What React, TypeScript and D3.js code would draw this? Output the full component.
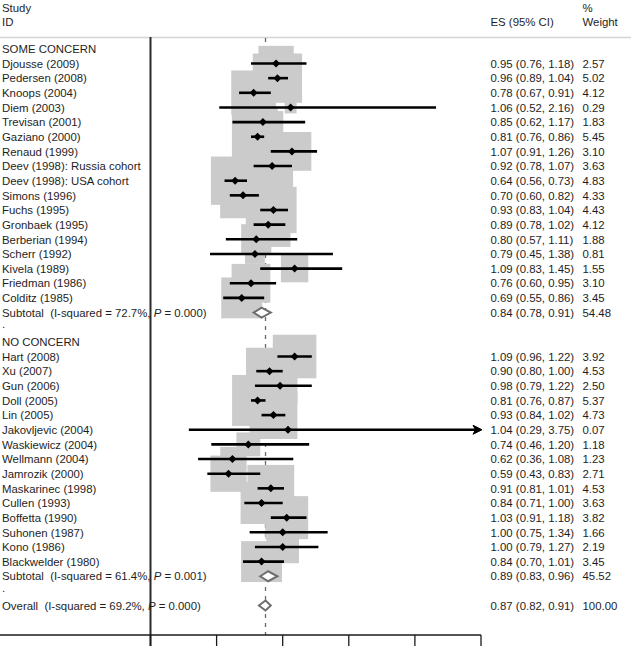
import React from "react";
import * as d3 from "d3";

// ---- data ----
const group1Name = "SOME CONCERN";
const group1Studies = [
  "Djousse (2009)", "Pedersen (2008)", "Knoops (2004)", "Diem (2003)", "Trevisan (2001)",
  "Gaziano (2000)", "Renaud (1999)", "Deev (1998): Russia cohort", "Deev (1998): USA cohort",
  "Simons (1996)", "Fuchs (1995)", "Gronbaek (1995)", "Berberian (1994)", "Scherr (1992)",
  "Kivela (1989)", "Friedman (1986)", "Colditz (1985)",
];
const group1ES = [0.95, 0.96, 0.78, 1.06, 0.85, 0.81, 1.07, 0.92, 0.64, 0.70, 0.93, 0.89, 0.80, 0.79, 1.09, 0.76, 0.69];
const group1Lo = [0.76, 0.89, 0.67, 0.52, 0.62, 0.76, 0.91, 0.78, 0.56, 0.60, 0.83, 0.78, 0.57, 0.45, 0.83, 0.60, 0.55];
const group1Hi = [1.18, 1.04, 0.91, 2.16, 1.17, 0.86, 1.26, 1.07, 0.73, 0.82, 1.04, 1.02, 1.11, 1.38, 1.45, 0.95, 0.86];
const group1W = [2.57, 5.02, 4.12, 0.29, 1.83, 5.45, 3.10, 3.63, 4.83, 4.33, 4.43, 4.12, 1.88, 0.81, 1.55, 3.10, 3.45];
const group1Sub = { es: 0.84, lo: 0.78, hi: 0.91, w: 54.48, i2: "72.7%", p: "0.000" };

const group2Name = "NO CONCERN";
const group2Studies = [
  "Hart (2008)", "Xu (2007)", "Gun (2006)", "Doll (2005)", "Lin (2005)", "Jakovljevic (2004)",
  "Waskiewicz (2004)", "Wellmann (2004)", "Jamrozik (2000)", "Maskarinec (1998)", "Cullen (1993)",
  "Boffetta (1990)", "Suhonen (1987)", "Kono (1986)", "Blackwelder (1980)",
];
const group2ES = [1.09, 0.90, 0.98, 0.81, 0.93, 1.04, 0.74, 0.62, 0.59, 0.91, 0.84, 1.03, 1.00, 1.00, 0.84];
const group2Lo = [0.96, 0.80, 0.79, 0.76, 0.84, 0.29, 0.46, 0.36, 0.43, 0.81, 0.71, 0.91, 0.75, 0.79, 0.70];
const group2Hi = [1.22, 1.00, 1.22, 0.87, 1.02, 3.75, 1.20, 1.08, 0.83, 1.01, 1.00, 1.18, 1.34, 1.27, 1.01];
const group2W = [3.92, 4.53, 2.50, 5.37, 4.73, 0.07, 1.18, 1.23, 2.71, 4.53, 3.63, 3.82, 1.66, 2.19, 3.45];
const group2Sub = { es: 0.89, lo: 0.83, hi: 0.96, w: 45.52, i2: "61.4%", p: "0.001" };

const overall = { es: 0.87, lo: 0.82, hi: 0.91, w: 100.0, i2: "69.2%", p: "0.000" };
const xTicks = [0, 0.5, 1, 1.5, 2, 2.5];

type Row =
  | { kind: "header"; label: string; idx: number }
  | { kind: "dot"; idx: number }
  | { kind: "study"; label: string; es: number; lo: number; hi: number; w: number; idx: number }
  | { kind: "sub"; label: string; es: number; lo: number; hi: number; w: number; i2: string; p: string; idx: number };

function buildRows(): Row[] {
  const rows: Row[] = [];
  let i = -1;
  rows.push({ kind: "header", label: group1Name, idx: i++ });
  group1Studies.forEach((s, k) =>
    rows.push({ kind: "study", label: s, es: group1ES[k], lo: group1Lo[k], hi: group1Hi[k], w: group1W[k], idx: i++ })
  );
  rows.push({ kind: "sub", label: "Subtotal", ...group1Sub, idx: i++ });
  rows.push({ kind: "dot", idx: i++ });
  rows.push({ kind: "header", label: group2Name, idx: i++ });
  group2Studies.forEach((s, k) =>
    rows.push({ kind: "study", label: s, es: group2ES[k], lo: group2Lo[k], hi: group2Hi[k], w: group2W[k], idx: i++ })
  );
  rows.push({ kind: "sub", label: "Subtotal", ...group2Sub, idx: i++ });
  rows.push({ kind: "dot", idx: i++ });
  rows.push({ kind: "sub", label: "Overall", ...overall, idx: i++ });
  return rows;
}

export default function App() {
  const W = 631;
  const H = 646;
  const rows = buildRows();
  const x = d3.scaleLinear().domain([0, 2.5]).range([150.5, 481]);
  const y = d3.scaleLinear().domain([0, 1]).range([63.5, 78.15]);
  const box = d3.scaleSqrt().domain([0, 5.37]).range([0, 51]);
  const f2 = d3.format(".2f");
  const font = "'Liberation Sans', Arial, Helvetica, sans-serif";
  const fs = 11.4;
  const txt = "#1e1e1e";
  const axisY = 635;
  const esX = 490.5;
  const wX = 582.5;

  const studies = rows.filter((r) => r.kind === "study") as Extract<Row, { kind: "study" }>[];
  const subs = rows.filter((r) => r.kind === "sub") as Extract<Row, { kind: "sub" }>[];

  return (
    <svg
      width={W}
      height={H}
      style={{ position: "absolute", left: 0, top: 0, background: "#fff" }}
      fontFamily={font}
      fontSize={fs}
    >
      <rect x={0} y={0} width={W} height={H} fill="#fff" />
      {/* header */}
      <text x={2} y={11.5} fill={txt}>Study</text>
      <text x={2} y={25.5} fill={txt}>ID</text>
      <text x={esX} y={25.5} fill={txt}>ES (95% CI)</text>
      <text x={wX} y={11.5} fill={txt}>%</text>
      <text x={wX} y={25.5} fill={txt}>Weight</text>
      <line x1={0} x2={W} y1={37.5} y2={37.5} stroke="#d4d4d4" strokeWidth={1.5} />

      {/* reference dashed line at overall ES */}
      <line
        x1={x(overall.es)}
        x2={x(overall.es)}
        y1={38}
        y2={axisY}
        stroke="#6a6a6a"
        strokeWidth={1.3}
        strokeDasharray="4,5"
      />

      {/* weight boxes */}
      {studies.map((r, k) => {
        const s = box(r.w);
        return (
          <rect key={"b" + k} x={x(r.es) - s / 2} y={y(r.idx) - s / 2} width={s} height={s} fill="#cbcbcb" />
        );
      })}

      {/* CIs and point markers */}
      {studies.map((r, k) => {
        const cy = y(r.idx);
        const cx = x(r.es);
        const clipped = r.hi > 2.5;
        const x2 = clipped ? x(2.5) : x(r.hi);
        return (
          <g key={"c" + k}>
            <line x1={x(r.lo)} x2={clipped ? x2 - 3 : x2} y1={cy} y2={cy} stroke="#000" strokeWidth={2.6} />
            {clipped && (
              <path
                d={`M${x2 - 8},${cy - 4.5} L${x2 + 1},${cy} L${x2 - 8},${cy + 4.5} L${x2 - 5.5},${cy} Z`}
                fill="#000"
                stroke="#000"
                strokeWidth={1}
                strokeLinejoin="round"
              />
            )}
            <path d={`M${cx - 4},${cy} L${cx},${cy - 4} L${cx + 4},${cy} L${cx},${cy + 4} Z`} fill="#000" />
          </g>
        );
      })}

      {/* summary diamonds */}
      {subs.map((r, k) => {
        const cy = y(r.idx);
        return (
          <path
            key={"d" + k}
            d={`M${x(r.lo)},${cy} L${x(r.es)},${cy - 5} L${x(r.hi)},${cy} L${x(r.es)},${cy + 5} Z`}
            fill="#fff"
            stroke="#6e6e6e"
            strokeWidth={2}
          />
        );
      })}

      {/* left vertical axis line */}
      <line x1={150.5} x2={150.5} y1={37} y2={H} stroke="#2a2a2a" strokeWidth={2} />

      {/* labels */}
      {rows.map((r, k) => {
        const by = y(r.idx) + 4.2;
        if (r.kind === "header") {
          return <text key={"t" + k} x={2} y={by} fill={txt}>{r.label}</text>;
        }
        if (r.kind === "dot") {
          return <text key={"t" + k} x={2} y={by - 3} fill={txt}>.</text>;
        }
        if (r.kind === "study") {
          return (
            <g key={"t" + k}>
              <text x={2} y={by} fill={txt}>{r.label}</text>
              <text x={esX} y={by} fill={txt}>{`${f2(r.es)} (${f2(r.lo)}, ${f2(r.hi)})`}</text>
              <text x={wX} y={by} fill={txt}>{f2(r.w)}</text>
            </g>
          );
        }
        return (
          <g key={"t" + k}>
            <text x={2} y={by} fill={txt} style={{ whiteSpace: "pre" }}>
              {`${r.label}  (I-squared = ${r.i2}, `}
              <tspan fontStyle="italic">P</tspan>
              {` = ${r.p})`}
            </text>
            <text x={esX} y={by} fill={txt}>{`${f2(r.es)} (${f2(r.lo)}, ${f2(r.hi)})`}</text>
            <text x={wX} y={by} fill={txt}>{f2(r.w)}</text>
          </g>
        );
      })}

      {/* bottom axis */}
      <line x1={0} x2={x(2.5)} y1={axisY} y2={axisY} stroke="#1a1a1a" strokeWidth={1.6} />
      {xTicks.map((t) => (
        <line key={"tk" + t} x1={x(t)} x2={x(t)} y1={axisY} y2={H + 5} stroke="#1a1a1a" strokeWidth={1.3} />
      ))}
    </svg>
  );
}
